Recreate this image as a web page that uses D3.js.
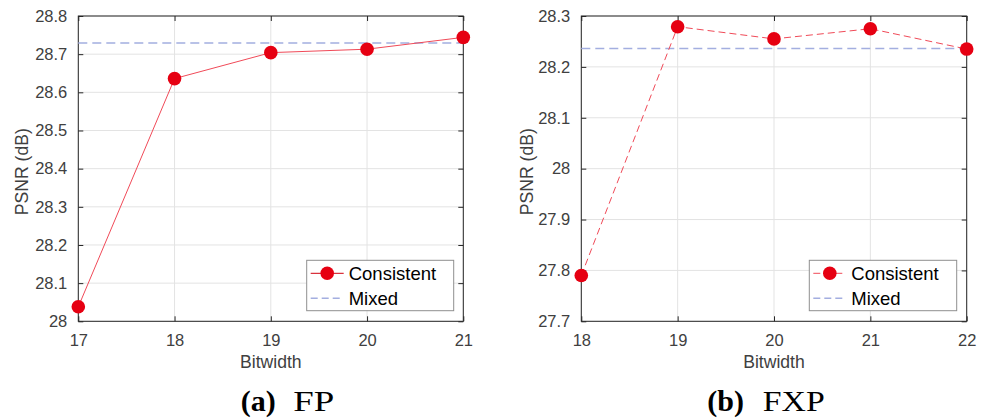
<!DOCTYPE html>
<html>
<head>
<meta charset="utf-8">
<script src="https://cdn.jsdelivr.net/npm/d3@7"></script>
<style>
  html, body { margin: 0; padding: 0; background: #fff; }
  svg { display: block; }
</style>
</head>
<body>
<svg id="chart" width="984" height="419"></svg>
<script>
// ---------- data ----------
const fpBits = [17, 18, 19, 20, 21];
const fpConsistent = [28.038, 28.636, 28.704, 28.713, 28.744];
const fpMixed = 28.729;
const fpYTicks = [28, 28.1, 28.2, 28.3, 28.4, 28.5, 28.6, 28.7, 28.8];

const fxpBits = [18, 19, 20, 21, 22];
const fxpConsistent = [27.790, 28.279, 28.255, 28.275, 28.235];
const fxpMixed = 28.236;
const fxpYTicks = [27.7, 27.8, 27.9, 28, 28.1, 28.2, 28.3];

const seriesNames = ["Consistent", "Mixed"];
const xLabel = "Bitwidth";
const yLabel = "PSNR (dB)";

// ---------- styles ----------
const AXIS = "#262626", TICKTXT = "#404040", GRID = "#e3e3e3";
const RED = "#e60012", REDLINE = "#f04a58", BLUE = "#a3aee0";
const SANS = "'Liberation Sans', Arial, Helvetica, sans-serif";
const SERIF = "'Liberation Serif', 'Times New Roman', serif";

const svg = d3.select("#chart");

function panel(cfg) {
  const { left, right, top, bottom } = cfg;
  const x = d3.scaleLinear().domain(d3.extent(cfg.bits)).range([left, right]);
  const y = d3.scaleLinear().domain(d3.extent(cfg.yTicks)).range([bottom, top]);
  const g = svg.append("g");

  // grid
  g.selectAll(".gx").data(cfg.bits).enter().append("line")
    .attr("x1", d => x(d)).attr("x2", d => x(d)).attr("y1", top).attr("y2", bottom)
    .attr("stroke", GRID).attr("stroke-width", 1);
  g.selectAll(".gy").data(cfg.yTicks).enter().append("line")
    .attr("x1", left).attr("x2", right).attr("y1", d => y(d)).attr("y2", d => y(d))
    .attr("stroke", GRID).attr("stroke-width", 1);

  // axes (d3 axes with inward ticks)
  const fmt = d => d3.format("")(+d.toFixed(1));
  const tick = 5;
  const ax = (gen, tr) => {
    const a = g.append("g").attr("transform", tr).call(gen);
    a.select(".domain").remove();
    a.selectAll("line").attr("stroke", AXIS);
    return a;
  };
  const bx = ax(d3.axisBottom(x).tickValues(cfg.bits).tickSize(-tick).tickPadding(9).tickFormat(d3.format("d")), `translate(0,${bottom})`);
  bx.selectAll("text").attr("font-family", SANS).attr("font-size", 16.5).attr("fill", TICKTXT).attr("dy", "0.93em");
  ax(d3.axisTop(x).tickValues(cfg.bits).tickSize(-tick).tickFormat(""), `translate(0,${top})`);
  const ly = ax(d3.axisLeft(y).tickValues(cfg.yTicks).tickSize(-tick).tickPadding(11).tickFormat(fmt), `translate(${left},0)`);
  ly.selectAll("text").attr("font-family", SANS).attr("font-size", 16.5).attr("fill", TICKTXT);
  ax(d3.axisRight(y).tickValues(cfg.yTicks).tickSize(-tick).tickFormat(""), `translate(${right},0)`);

  // box
  g.append("rect").attr("x", left).attr("y", top).attr("width", right - left).attr("height", bottom - top)
    .attr("fill", "none").attr("stroke", AXIS).attr("stroke-width", 1);

  // mixed
  const dom = x.domain();
  g.append("line").attr("x1", x(dom[0])).attr("x2", x(dom[1]))
    .attr("y1", y(cfg.mixed)).attr("y2", y(cfg.mixed))
    .attr("stroke", BLUE).attr("stroke-width", 1.5).attr("stroke-dasharray", "9,5");

  // consistent
  const pts = cfg.bits.map((b, i) => [b, cfg.consistent[i]]);
  g.append("path").datum(pts)
    .attr("d", d3.line().x(d => x(d[0])).y(d => y(d[1])))
    .attr("fill", "none").attr("stroke", REDLINE).attr("stroke-width", 1)
    .attr("stroke-dasharray", cfg.dashed ? "7,4" : null);
  g.selectAll(".pt").data(pts).enter().append("circle")
    .attr("cx", d => x(d[0])).attr("cy", d => y(d[1])).attr("r", 6.8).attr("fill", RED);

  // labels
  g.append("text").attr("x", (left + right) / 2).attr("y", cfg.xLabelY)
    .attr("text-anchor", "middle").attr("font-family", SANS).attr("font-size", 17.6)
    .attr("fill", TICKTXT).text(xLabel);
  g.append("text").attr("transform", `translate(${cfg.yLabelX},${(top + bottom) / 2 + 3}) rotate(-90)`)
    .attr("text-anchor", "middle").attr("font-family", SANS).attr("font-size", 17.6)
    .attr("fill", TICKTXT).text(yLabel);

  // legend
  const L = cfg.legend;
  g.append("rect").attr("x", L.x).attr("y", L.y).attr("width", L.w).attr("height", L.h)
    .attr("fill", "#fff").attr("stroke", "#8f8f8f").attr("stroke-width", 1);
  const row1 = L.y + 13, row2 = L.y + 38;
  const lx0 = L.x + 4, lx1 = L.x + 37;
  g.append("line").attr("x1", lx0).attr("x2", lx1).attr("y1", row1).attr("y2", row1)
    .attr("stroke", cfg.dashed ? REDLINE : "#d0000e").attr("stroke-width", 1)
    .attr("stroke-dasharray", cfg.dashed ? "7,4" : null);
  g.append("circle").attr("cx", (lx0 + lx1) / 2).attr("cy", row1).attr("r", 6.8).attr("fill", RED);
  g.append("line").attr("x1", lx0).attr("x2", lx1).attr("y1", row2).attr("y2", row2)
    .attr("stroke", BLUE).attr("stroke-width", 1.5).attr("stroke-dasharray", "7,4");
  seriesNames.forEach((name, i) => {
    g.append("text").attr("x", L.x + 42).attr("y", i === 0 ? row1 : row2).attr("dy", "0.36em")
      .attr("font-family", SANS).attr("font-size", 18.5).attr("fill", "#000").text(name);
  });

  // caption
  const C = cfg.caption;
  const ct = g.append("text").attr("y", 410.5).attr("font-family", SERIF).attr("font-size", 30).attr("fill", "#000");
  ct.append("tspan").attr("x", C.x1).attr("font-weight", "bold").text(C.tag);
  ct.append("tspan").attr("x", C.x2).attr("textLength", C.len).attr("lengthAdjust", "spacingAndGlyphs").text(C.name);
}

panel({
  bits: fpBits, consistent: fpConsistent, mixed: fpMixed, yTicks: fpYTicks, dashed: false,
  left: 78.3, right: 463.3, top: 16, bottom: 321.3,
  xLabelY: 368, yLabelX: 28,
  legend: { x: 306.7, y: 260.3, w: 147, h: 50.4 },
  caption: { tag: "(a)", name: "FP", x1: 240.7, x2: 293.3, len: 41 }
});

panel({
  bits: fxpBits, consistent: fxpConsistent, mixed: fxpMixed, yTicks: fxpYTicks, dashed: true,
  left: 581.3, right: 966.7, top: 16, bottom: 321.3,
  xLabelY: 368, yLabelX: 533,
  legend: { x: 809.3, y: 260.3, w: 147.4, h: 50.4 },
  caption: { tag: "(b)", name: "FXP", x1: 707.3, x2: 762.7, len: 62 }
});
</script>
</body>
</html>
